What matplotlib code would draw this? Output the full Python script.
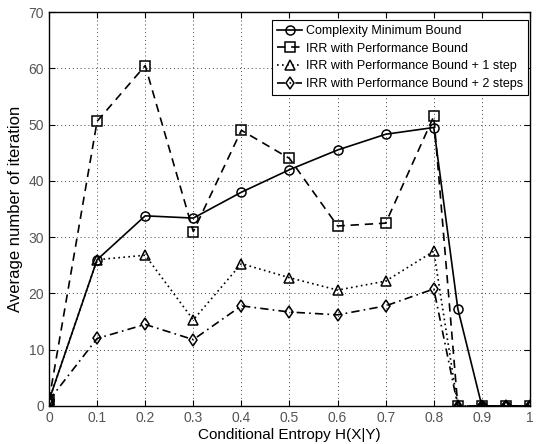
import numpy as np
import matplotlib.pyplot as plt

plt.rcParams['font.family'] = ['Liberation Sans', 'DejaVu Sans']

entropy = [0, 0.1, 0.2, 0.3, 0.4, 0.5, 0.6, 0.7, 0.8, 0.85, 0.9, 0.95, 1.0]
complexity_min = [1, 26, 33.8, 33.4, 38, 42, 45.5, 48.3, 49.5, 17.3, 0, 0, 0]
irr_perf = [1, 50.6, 60.5, 31, 49, 44, 32, 32.5, 51.5, 0, 0, 0, 0]
irr_perf_1 = [1, 26, 26.8, 15.3, 25.3, 22.8, 20.6, 22.2, 27.5, 0, 0, 0, 0]
irr_perf_2 = [1, 12, 14.5, 11.8, 17.8, 16.7, 16.2, 17.8, 20.8, 0, 0, 0, 0]

labels = ['Complexity Minimum Bound',
          'IRR with Performance Bound',
          'IRR with Performance Bound + 1 step',
          'IRR with Performance Bound + 2 steps']

fig = plt.figure(figsize=(5.41, 4.44), dpi=100)
ax = fig.add_axes([0.0906, 0.0856, 0.889, 0.887])

mk = dict(color='black', markerfacecolor='none', markeredgecolor='black',
          markersize=6.5, markeredgewidth=1.1, linewidth=1.2)
ax.plot(entropy, complexity_min, linestyle='-', marker='o', label=labels[0], **mk)
ax.plot(entropy, irr_perf, linestyle=(0, (5, 3.5)), marker='s', label=labels[1], **mk)
ax.plot(entropy, irr_perf_1, linestyle=(0, (1, 2)), marker='^', label=labels[2], **mk)
ax.plot(entropy, irr_perf_2, linestyle=(0, (5, 2.5, 1, 2.5)), marker='d', label=labels[3], **mk)

ax.set_xlim(0, 1)
ax.set_ylim(0, 70)
ax.set_xticks(np.arange(0, 1.01, 0.1))
ax.set_xticklabels(['0', '0.1', '0.2', '0.3', '0.4', '0.5', '0.6', '0.7', '0.8', '0.9', '1'])
ax.set_yticks(np.arange(0, 71, 10))
ax.tick_params(direction='in', top=True, right=True, labelsize=10,
               labelcolor='#555555', length=4)
ax.grid(True, color='#444444', linestyle=(0, (1, 3)), linewidth=0.7)
for s in ax.spines.values():
    s.set_linewidth(1.0)

ax.set_xlabel('Conditional Entropy H(X|Y)', fontsize=11, labelpad=2)
ax.set_ylabel('Average number of iteration', fontsize=12, labelpad=4)

leg = ax.legend(loc='upper right', bbox_to_anchor=(0.996, 0.98), fontsize=9,
                fancybox=False, framealpha=1, edgecolor='black',
                handlelength=2.0, handletextpad=0.3, borderpad=0.4,
                labelspacing=0.45, borderaxespad=0)
leg.get_frame().set_linewidth(0.8)

fig.savefig('out.png', dpi=100)
